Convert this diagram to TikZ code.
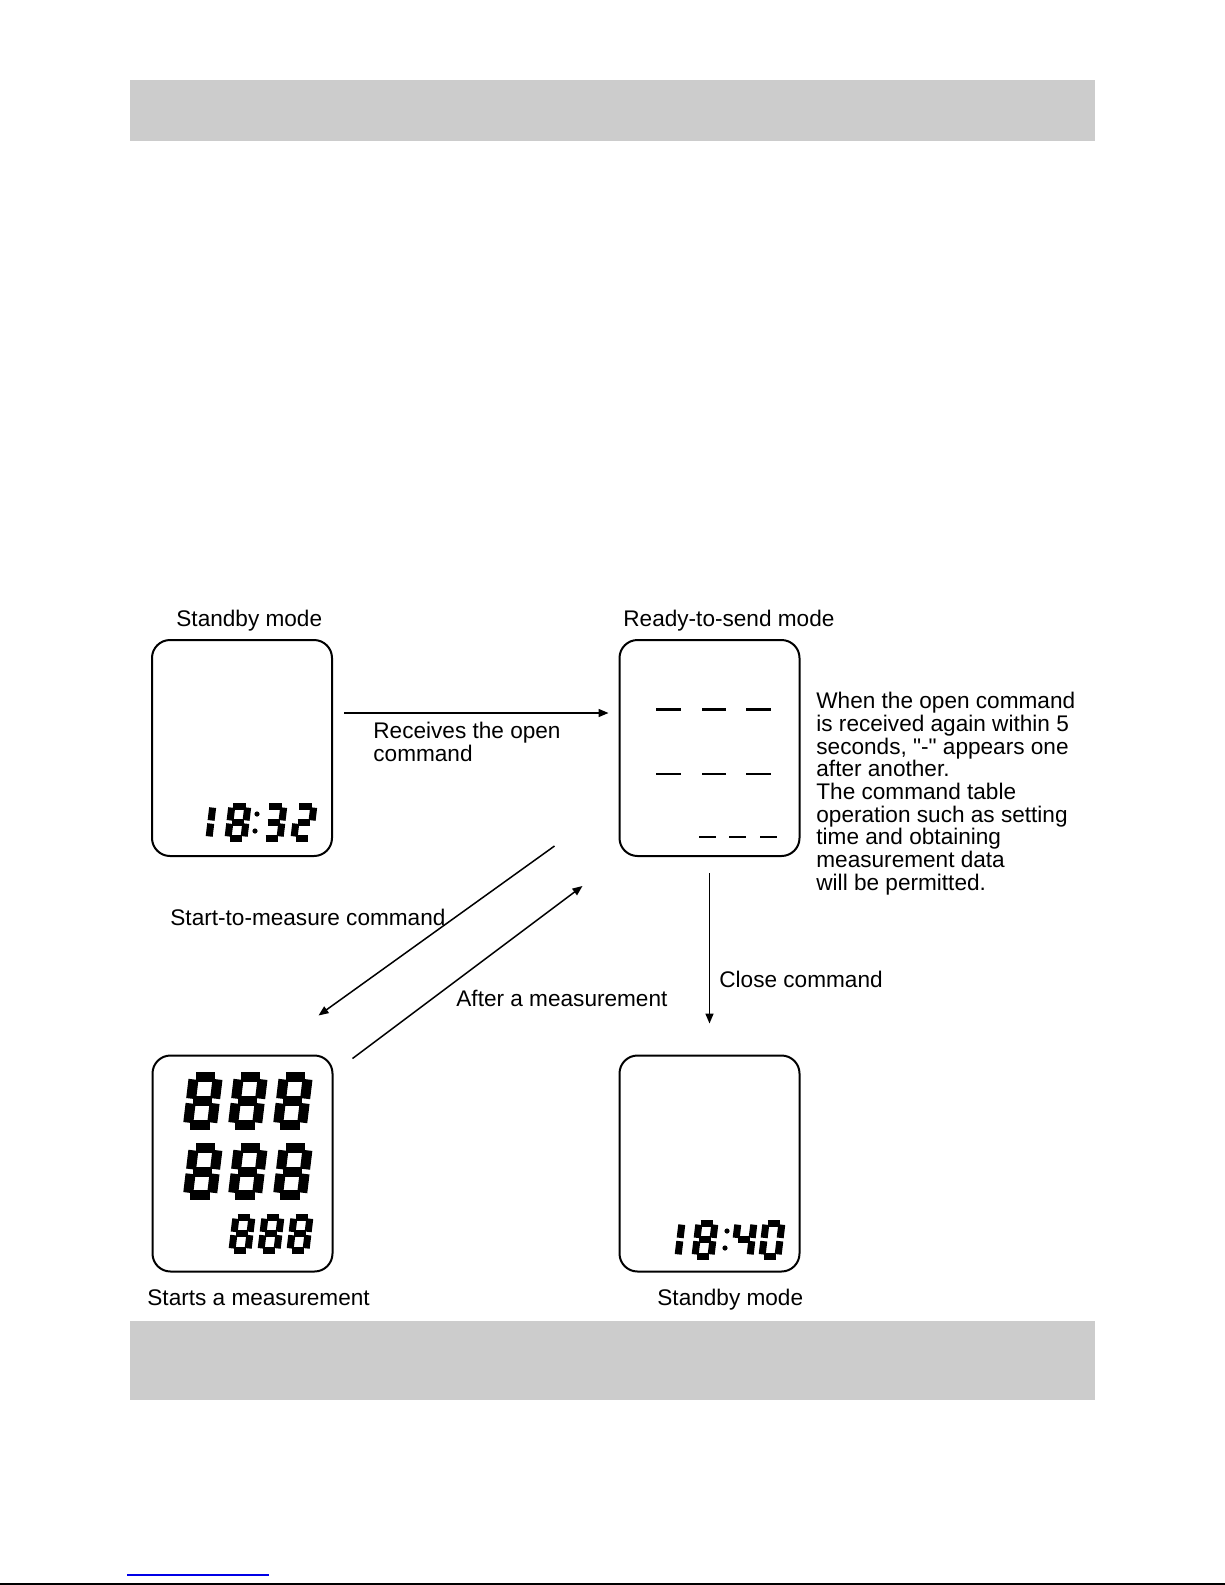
\documentclass[tikz,border=0pt]{standalone}
\usepackage{fontspec}
\setmainfont{Liberation Sans}
\usetikzlibrary{arrows.meta}

\definecolor{bandgray}{RGB}{204,204,204}
\definecolor{linkblue}{RGB}{0,0,230}

% segments of one LCD digit, drawn in a unit cell
\newcommand\lcdsega{\draw (0.1,1) -- (0.9,1);}
\newcommand\lcdsegb{\draw (1,0.95) -- (1,0.55);}
\newcommand\lcdsegc{\draw (1,0.45) -- (1,0.05);}
\newcommand\lcdsegd{\draw (0.1,0) -- (0.9,0);}
\newcommand\lcdsege{\draw (0,0.05) -- (0,0.45);}
\newcommand\lcdsegf{\draw (0,0.55) -- (0,0.95);}
\newcommand\lcdsegg{\draw (0.1,0.5) -- (0.9,0.5);}
% #1,#2 bottom left, #3 width, #4 height, #5 segments
\newcommand\lcddigit[5]{%
  \begin{scope}[shift={(#1,#2)},xslant=0.12,xscale=#3,yscale=-#4]
    \foreach \s in {#5}{\csname lcdseg\s\endcsname}
  \end{scope}}

\begin{document}
\begin{tikzpicture}[
  x=0.5pt, y=-0.5pt,
  font=\fontsize{11.3}{11.35}\selectfont,
  lcdbox/.style={
    draw,
    line width=1pt,
    rounded corners=9pt,
    minimum width=90pt,
    minimum height=108pt,
    inner sep=0pt
  },
  lbl/.style={inner sep=0pt, anchor=base west},
  note/.style={inner sep=0pt, anchor=north west, align=left},
  arrow/.style={-{Triangle[length=5pt,width=4pt]}, line width=0.75pt},
  segs/.style={line width=#1, line cap=butt}
]
\useasboundingbox (0,0) rectangle (1225,1585);

% grey bands
\fill[bandgray] (130,80) rectangle (1095,141);
\fill[bandgray] (130,1321) rectangle (1095,1400);

% displays
\node[lcdbox] (standbyA) at (242,748) {};
\node[lcdbox] (ready) at (709.5,748) {};
\node[lcdbox] (measure) at (242.5,1163.5) {};
\node[lcdbox] (standbyB) at (709.5,1163.5) {};

\node[lbl] (lblStandbyA) at (176,626) {Standby mode};
\node[lbl] (lblReady) at (623,626) {Ready-to-send mode};
\node[lbl] (lblMeasure) at (147,1305) {Starts a measurement};
\node[lbl] (lblStandbyB) at (657,1305) {Standby mode};

% 18:32
\begin{scope}[segs=3.5pt]
  \lcddigit{193}{838}{16}{32}{b,c}
  \lcddigit{228}{838}{16}{32}{a,b,c,d,e,f,g}
  \lcddigit{264}{838}{16}{32}{a,b,c,d,g}
  \lcddigit{294}{838}{16}{32}{a,b,g,e,d}
\end{scope}
\fill (257,814) circle (1.3pt) (255,831) circle (1.3pt);

% 18:40
\begin{scope}[segs=3.5pt]
  \lcddigit{662}{1256}{16}{33}{b,c}
  \lcddigit{695}{1256}{16}{33}{a,b,c,d,e,f,g}
  \lcddigit{734}{1256}{16}{33}{f,g,b,c}
  \lcddigit{762}{1256}{16}{33}{a,b,c,d,e,f}
\end{scope}
\fill (727,1231) circle (1.3pt) (725,1248) circle (1.3pt);

% 888 / 888 / 888
\begin{scope}[segs=5pt]
  \foreach \x in {188,233,278} {
    \lcddigit{\x}{1125}{24}{48}{a,b,c,d,e,f,g}
    \lcddigit{\x}{1195}{24}{47}{a,b,c,d,e,f,g}
  }
\end{scope}
\begin{scope}[segs=3.5pt]
  \foreach \x in {232,261,290}
    \lcddigit{\x}{1250}{16}{33}{a,b,c,d,e,f,g};
\end{scope}

% dashes
\foreach \xa/\xb in {656/681,702/726,746/771} {
  \draw[line width=1.5pt] (\xa,709) -- (\xb,709);
  \draw[line width=0.8pt] (\xa,774) -- (\xb,774);
}
\foreach \xa/\xb in {699/716,729/746,760/777}
  \draw[line width=0.8pt] (\xa,837) -- (\xb,837);

% transitions
\draw[arrow] ([xshift=5.5pt,yshift=17.5pt]standbyA.east) -- ([xshift=-5pt,yshift=17.5pt]ready.west);
\node[note] (lblOpen) at (373,722) {Receives the open\\command};

\draw[arrow] ([yshift=-8pt]ready.south) -- ([yshift=15.5pt]standbyB.north);
\node[lbl] (lblClose) at (719,987) {Close command};

\draw[arrow] ([xshift=-32pt,yshift=5.5pt]ready.south west) -- ([xshift=-7.5pt,yshift=19.5pt]measure.north east);
\node[lbl] (lblStart) at (170,925) {Start-to-measure command};

\draw[arrow] ([xshift=9.5pt,yshift=-2pt]measure.north east) -- ([xshift=-18pt,yshift=-14.5pt]ready.south west);
\node[lbl] (lblAfter) at (456,1006) {After a measurement};

\node[note] (lblNote) at (816,692) {When the open command\\is received again within 5\\seconds, \textquotedbl-\textquotedbl{} appears one\\after another.\\The command table\\operation such as setting\\time and obtaining\\measurement data\\will be permitted.};

% page foot
\draw[linkblue, line width=1pt] (127,1575) -- (269,1575);
\draw[line width=1pt] (0,1584) -- (1225,1584);
\end{tikzpicture}
\end{document}
